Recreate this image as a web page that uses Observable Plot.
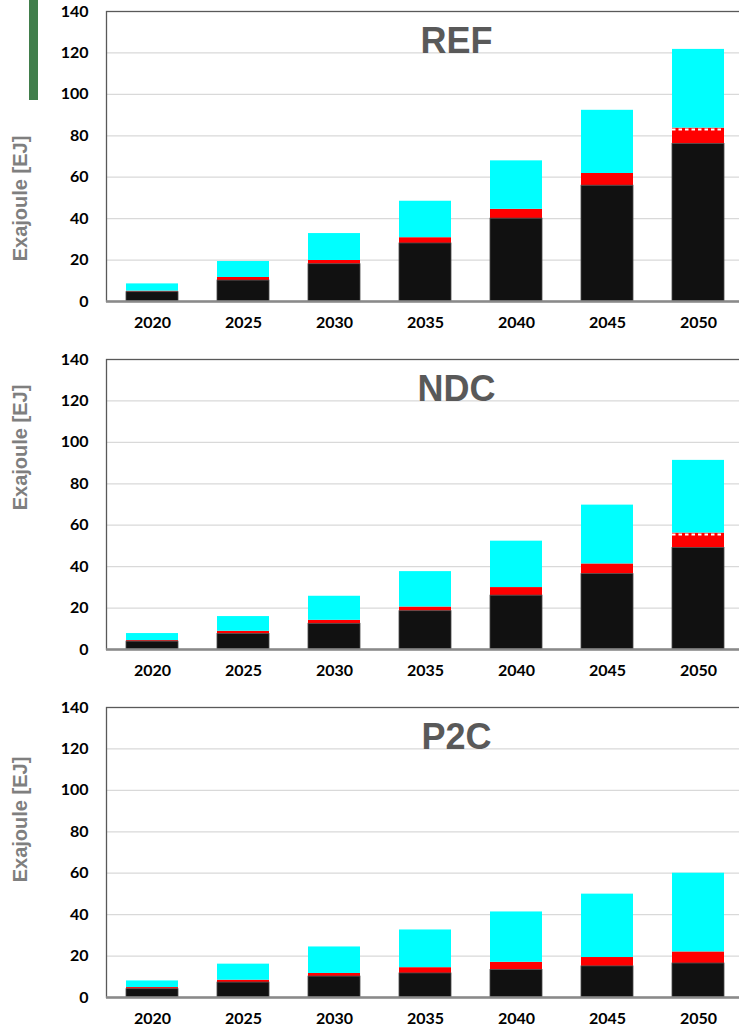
<!DOCTYPE html>
<html>
<head>
<meta charset="utf-8">
<script src="https://cdn.jsdelivr.net/npm/d3@7"></script>
<script src="https://cdn.jsdelivr.net/npm/@observablehq/plot@0.6"></script>
<style>
  html, body { margin: 0; padding: 0; background: #ffffff; overflow: hidden; }
  #wrap { position: relative; width: 739px; height: 1031px; overflow: hidden; }
  #greenbar { position: absolute; left: 29px; top: 0; width: 9px; height: 100px; background: #417e4b; }
  .panel { width: 739px; overflow: hidden; }
  .panel svg { display: block; }
</style>
</head>
<body>
<div id="wrap">
  <div id="charts"></div>
  <div id="greenbar"></div>
</div>
<script>
// ---------- data ----------
const years = ["2020", "2025", "2030", "2035", "2040", "2045", "2050"];
const seriesNames = ["Segment 1", "Segment 2", "Segment 3"];
const seriesColors = ["#111111", "#ff0000", "#00ffff"];
const yTicks = [0, 20, 40, 60, 80, 100, 120, 140];
const gridTicks = [20, 40, 60, 80, 100, 120];
const yTitle = "Exajoule [EJ]";

// REF scenario
const refSeg1 = [4.5, 10.1, 18.0, 28.0, 40.0, 55.9, 76.1];
const refSeg2 = [0.5, 1.5, 1.8, 2.8, 4.5, 5.9, 7.6];
const refSeg3 = [3.5, 7.7, 13.0, 17.6, 23.4, 30.5, 38.0];
const refDashed = ["2050"];

// NDC scenario
const ndcSeg1 = [3.8, 7.5, 12.4, 18.5, 26.0, 36.4, 49.0];
const ndcSeg2 = [0.5, 1.3, 1.7, 2.0, 3.9, 4.9, 7.2];
const ndcSeg3 = [3.4, 7.1, 11.6, 17.1, 22.4, 28.4, 35.1];
const ndcDashed = ["2050"];

// P2C scenario
const p2cSeg1 = [4.0, 7.2, 10.1, 11.6, 13.3, 15.0, 16.4];
const p2cSeg2 = [0.8, 1.15, 1.5, 2.8, 3.7, 4.3, 5.6];
const p2cSeg3 = [3.2, 7.75, 12.8, 18.2, 24.3, 30.6, 38.0];
const p2cDashed = [];

// ---------- drawing ----------
function panel(name, s1, s2, s3, dashed, titleDy) {
  const rows = [];
  years.forEach((yr, i) => {
    rows.push({year: yr, series: seriesNames[0], value: s1[i]});
    rows.push({year: yr, series: seriesNames[1], value: s2[i]});
    rows.push({year: yr, series: seriesNames[2], value: s3[i]});
  });
  const baseRows = years.map((yr, i) => ({year: yr, value: s1[i]}));
  const dashRows = dashed.map(yr => {
    const i = years.indexOf(yr);
    return {year: yr, top: s1[i] + s2[i]};
  });
  return Plot.plot({
    width: 746,
    height: 348,
    marginTop: 11,
    marginBottom: 47,
    marginLeft: 106,
    marginRight: 2,
    style: {fontFamily: "Lato, 'Open Sans', sans-serif", fontSize: "16px", fontWeight: "bold",
      color: "#000", background: "#fff", maxWidth: "none"},
    x: {domain: years, paddingInner: 0.43, paddingOuter: 0.215, axis: null},
    y: {domain: [0, 140], axis: null},
    color: {domain: seriesNames, range: seriesColors},
    marks: [
      Plot.gridY(gridTicks, {stroke: "#d9d9d9", strokeOpacity: 1, strokeWidth: 1.3}),
      Plot.frame({stroke: "#595959", strokeWidth: 1.3}),
      Plot.barY(rows, {x: "year", y: "value", fill: "series"}),
      Plot.barY(baseRows, {x: "year", y: "value", fill: "none", stroke: "#4a4a4a", strokeWidth: 0.8}),
      Plot.tickY(dashRows, {x: "year", y: "top", stroke: "#ffffff", strokeWidth: 2,
        strokeDasharray: "3.5,3", dy: 1.5}),
      Plot.ruleY([0], {stroke: "#8a8a8a", strokeWidth: 2.5}),
      Plot.axisY({ticks: yTicks, tickSize: 0, tickPadding: 18, label: null, fill: "#000"}),
      Plot.axisX({tickSize: 0, tickPadding: 15, label: null, fill: "#000"}),
      Plot.text([name], {frameAnchor: "top", text: d => d, dx: 31, dy: 41, lineAnchor: "bottom",
        fontFamily: "'Liberation Sans', Arial, sans-serif", fontSize: 36, fontWeight: "bold", fill: "#595959"}),
      Plot.text([yTitle], {frameAnchor: "left", text: d => d, rotate: -90, dx: -86, dy: titleDy,
        textAnchor: "middle", lineAnchor: "middle",
        fontFamily: "'Liberation Sans', Arial, sans-serif", fontSize: 20, fontWeight: "bold", fill: "#7f7f7f"})
    ]
  });
}

const charts = document.getElementById("charts");
[
  ["REF", refSeg1, refSeg2, refSeg3, refDashed, 42],
  ["NDC", ndcSeg1, ndcSeg2, ndcSeg3, ndcDashed, -57],
  ["P2C", p2cSeg1, p2cSeg2, p2cSeg3, p2cDashed, -33]
].forEach(args => {
  const div = document.createElement("div");
  div.className = "panel";
  div.appendChild(panel(...args));
  charts.appendChild(div);
});
</script>
</body>
</html>
